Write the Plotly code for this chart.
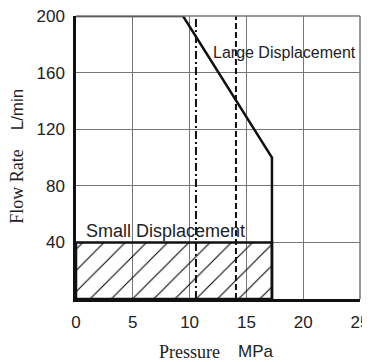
import plotly.graph_objects as go

# operating limit curve (pressure MPa, flow L/min)
large_p = [0, 9.42, 17.25, 17.25]
large_q = [200, 200, 100, 0]

# small displacement region
small_p = [0, 17.25, 17.25, 0, 0]
small_q = [0, 0, 40, 40, 0]

# vertical reference lines
dashdot_p = 10.56
dash_p = 14.08

x_ticks = [0, 5, 10, 15, 20, 25]
y_ticks = [0, 40, 80, 120, 160, 200]
y_labels = ["", "40", "80", "120", "160", "200"]

sans = "Arial, Liberation Sans, sans-serif"
serif = "Times New Roman, Liberation Serif, serif"

fig = go.Figure()

fig.add_trace(go.Scatter(
    x=small_p, y=small_q, mode="lines", fill="toself",
    fillcolor="rgba(0,0,0,0)",
    fillpattern=dict(shape="/", size=15, solidity=0.07, fgcolor="#000", bgcolor="rgba(0,0,0,0)"),
    line=dict(color="#111", width=2.5), hoverinfo="skip"))

fig.add_trace(go.Scatter(
    x=[dashdot_p, dashdot_p], y=[0, 200], mode="lines",
    line=dict(color="#111", width=2, dash="8px,3px,2px,3px")))
fig.add_trace(go.Scatter(
    x=[dash_p, dash_p], y=[0, 200], mode="lines",
    line=dict(color="#111", width=2, dash="6px,3px")))

fig.add_trace(go.Scatter(
    x=large_p, y=large_q, mode="lines", cliponaxis=False,
    line=dict(color="#111", width=2.5)))

fig.add_annotation(x=18.35, y=174, text="Large Displacement", showarrow=False,
                   xanchor="center", yanchor="middle",
                   font=dict(family=sans, size=16, color="#222"))
fig.add_annotation(x=7.92, y=48, text="Small Displacement", showarrow=False,
                   xanchor="center", yanchor="middle",
                   font=dict(family=sans, size=18, color="#222"))

# split axis titles: serif name + sans unit
fig.add_annotation(xref="paper", yref="paper", x=0.401, y=-0.187, text="Pressure",
                   xanchor="center", yanchor="middle",
                   showarrow=False, font=dict(family=serif, size=18, color="#222"))
fig.add_annotation(xref="paper", yref="paper", x=0.634, y=-0.187, text="MPa",
                   xanchor="center", yanchor="middle",
                   showarrow=False, font=dict(family=sans, size=17, color="#222"))
fig.add_annotation(xref="paper", yref="paper", x=-0.208, y=0.40, text="Flow Rate",
                   xanchor="center", yanchor="middle",
                   textangle=-90, showarrow=False, font=dict(family=serif, size=18, color="#222"))
fig.add_annotation(xref="paper", yref="paper", x=-0.208, y=0.67, text="L/min",
                   xanchor="center", yanchor="middle",
                   textangle=-90, showarrow=False, font=dict(family=sans, size=17, color="#222"))

# thin gray frame on top/right, drawn above the plot background
fig.add_shape(type="line", xref="paper", yref="paper", x0=0, x1=1, y0=1, y1=1,
              line=dict(color="#777", width=1.5), layer="above")
fig.add_shape(type="line", xref="paper", yref="paper", x0=1, x1=1, y0=0, y1=1,
              line=dict(color="#777", width=1.5), layer="above")

fig.update_xaxes(range=[0, 25], tickvals=x_ticks, showgrid=True, gridcolor="#777", gridwidth=1,
                 showline=True, linecolor="#111", linewidth=2.5, zeroline=False, automargin=False,
                 ticklabeloverflow="allow",
                 ticks="", ticklabelstandoff=6, tickfont=dict(family=sans, size=17, color="#222"))
fig.update_yaxes(range=[0, 200], tickvals=y_ticks, ticktext=y_labels, showgrid=True,
                 gridcolor="#777", gridwidth=1,
                 showline=True, linecolor="#111", linewidth=2.5, zeroline=False, automargin=False,
                 ticklabeloverflow="allow",
                 ticks="", ticklabelstandoff=5, tickfont=dict(family=sans, size=17, color="#222"))

# page body adds an 8px offset, so margins are shifted to compensate
fig.update_layout(width=370, height=362, margin=dict(l=68, r=18, t=8, b=71),
                  plot_bgcolor="white", paper_bgcolor="white", showlegend=False,
                  template="none")

fig.write_html("out.html")
